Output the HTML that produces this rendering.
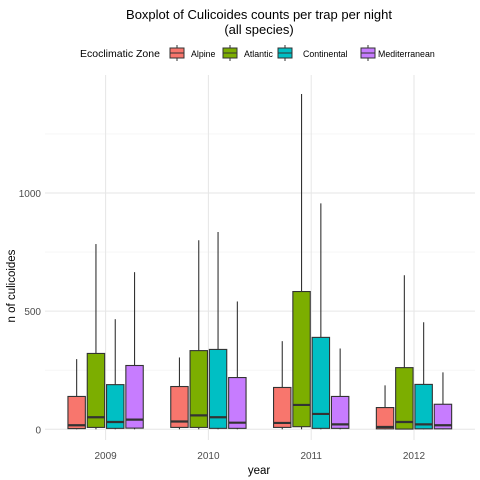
<!DOCTYPE html>
<html><head><meta charset="utf-8"><style>
body{margin:0;background:#fff;}
svg{display:block;font-family:"Liberation Sans",Arial,sans-serif;}
</style></head><body>
<svg id="chart" width="480" height="480">
<text x="259" y="19" text-anchor="middle" font-size="13" fill="#000">Boxplot of Culicoides counts per trap per night</text>
<text x="259" y="34" text-anchor="middle" font-size="13" fill="#000">(all species)</text>
<g id="legend"></g>
<g id="grid"></g>
<g id="marks"></g>
<g id="axes"></g>
<text x="259" y="474" text-anchor="middle" font-size="11.5" fill="#000">year</text>
<text transform="translate(15,286) rotate(-90)" text-anchor="middle" font-size="11.5" fill="#000">n of culicoides</text>
</svg>
<script>
const years = ["2009","2010","2011","2012"];
const zones = ["Alpine","Atlantic","Continental","Mediterranean"];
const colors = ["#F8766D","#7CAE00","#00BFC4","#C77CFF"];
// [year][zone] values
const q1 = [[3,8,4,5],[8,8,4,4],[8,11,4,4],[2,1,2,2]];
const medians = [[17,51,31,41],[33,59,51,28],[27,103,65,21],[10,31,21,17]];
const q3 = [[139,321,189,270],[181,333,338,219],[177,583,389,139],[92,261,190,106]];
const whiskHi = [[297,784,466,665],[304,800,835,541],[373,1419,956,342],[186,652,453,241]];
const whiskLo = [[0,0,0,0],[0,0,0,0],[0,0,0,0],[0,0,0,0]];
const yTicks = [0,500,1000];
const yMinor = [250,750,1250];

const NS="http://www.w3.org/2000/svg";
const px0=45, px1=475, py0=75, py1=440;
function y(v){return 429.3-v*0.2363;}
function xc(i){return 105.6+i*102.8;}
const slot=19.3, bw=17.4;
function mk(tag,attrs,parent){const e=document.createElementNS(NS,tag);for(const k in attrs)e.setAttribute(k,attrs[k]);parent.appendChild(e);return e;}
const grid=document.getElementById('grid'), marks=document.getElementById('marks'), axes=document.getElementById('axes'), legend=document.getElementById('legend');

yMinor.forEach(v=>{const l=mk('line',{x1:px0,x2:px1,y1:y(v),y2:y(v),stroke:'#f0f0f0','stroke-width':0.6},grid);

});
yTicks.forEach(v=>{const l=mk('line',{x1:px0,x2:px1,y1:y(v),y2:y(v),stroke:'#e6e6e6','stroke-width':1},grid);


const t=mk('text',{x:41,y:y(v)+4,'text-anchor':'end','font-size':10,fill:'#4d4d4d'},axes);t.textContent=v;

});
years.forEach((yr,i)=>{const l=mk('line',{x1:xc(i),x2:xc(i),y1:py0,y2:py1,stroke:'#e6e6e6','stroke-width':1},grid);


const t=mk('text',{x:xc(i),y:459,'text-anchor':'middle','font-size':10,fill:'#4d4d4d'},axes);t.textContent=yr;

});

years.forEach((yr,i)=>{zones.forEach((z,j)=>{
  const cx=xc(i)+(j-1.5)*slot;
  const g=mk('g',{},marks);
  
  
  mk('line',{x1:cx,x2:cx,y1:y(q3[i][j]),y2:y(whiskHi[i][j]),stroke:'#333','stroke-width':1.1},g);
  mk('line',{x1:cx,x2:cx,y1:y(q1[i][j]),y2:y(whiskLo[i][j]),stroke:'#333','stroke-width':1.1},g);
  mk('rect',{x:cx-bw/2,y:y(q3[i][j]),width:bw,height:y(q1[i][j])-y(q3[i][j]),fill:colors[j],stroke:'#333','stroke-width':1.1},g);
  mk('line',{x1:cx-bw/2,x2:cx+bw/2,y1:y(medians[i][j]),y2:y(medians[i][j]),stroke:'#333','stroke-width':2.2},g);
});});

const lt=mk('text',{x:80,y:57,'font-size':10.5,fill:'#000'},legend);lt.textContent='Ecoclimatic Zone';


const kx=[170,223,278,361];
const tx=[191,244,303,378];
zones.forEach((z,j)=>{const g=mk('g',{},legend);


mk('line',{x1:kx[j]+7,x2:kx[j]+7,y1:45,y2:61,stroke:'#333','stroke-width':1},g);
mk('rect',{x:kx[j],y:48,width:14,height:10,fill:colors[j],stroke:'#333','stroke-width':1},g);
mk('line',{x1:kx[j],x2:kx[j]+14,y1:53,y2:53,stroke:'#333','stroke-width':1},g);
const t=mk('text',{x:tx[j],y:57,'font-size':8.8,fill:'#000'},g);t.textContent=z;});
</script>
</body></html>
